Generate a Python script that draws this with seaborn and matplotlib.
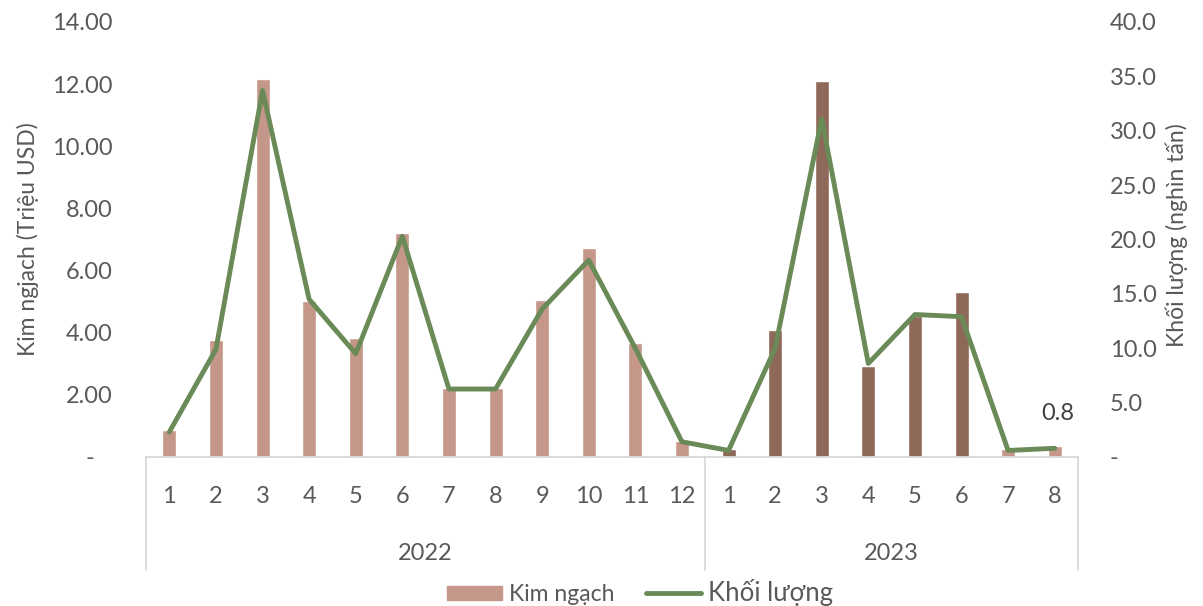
import matplotlib
matplotlib.use("Agg")
import matplotlib.pyplot as plt
import matplotlib.transforms as mtransforms
from matplotlib.patches import Patch
from matplotlib.lines import Line2D
from matplotlib.ticker import FuncFormatter
import seaborn as sns
import pandas as pd

# Data
months = [1, 2, 3, 4, 5, 6, 7, 8, 9, 10, 11, 12, 1, 2, 3, 4, 5, 6, 7, 8]
years = ["2022"] * 12 + ["2023"] * 8
kim_ngach = [0.88, 3.75, 12.15, 5.03, 3.82, 7.21, 2.23, 2.23, 5.04, 6.74, 3.67, 0.52,
             0.26, 4.10, 12.09, 2.94, 4.55, 5.32, 0.26, 0.34]
khoi_luong = [2.3, 9.9, 33.7, 14.5, 9.5, 20.3, 6.25, 6.25, 13.6, 18.1, 10.0, 1.4,
              0.6, 10.0, 31.1, 8.6, 13.1, 12.9, 0.6, 0.8]

LIGHT = "#C4978A"
DARK = "#8E6858"
GREEN = "#6A8A57"
TEXT = "#595959"
GRID = "#D9D9D9"

bar_colors = [LIGHT] * 12 + [DARK] * 6 + [LIGHT] * 2

sns.set_theme(style="white")
plt.rcParams["font.family"] = ["Lato", "Open Sans", "DejaVu Sans"]

keys = [f"{y}-{m}" for y, m in zip(years, months)]
df = pd.DataFrame({"key": keys, "pos": range(len(keys)), "kim": kim_ngach, "kl": khoi_luong})

fig = plt.figure(figsize=(12.03, 6.06), dpi=100)
ax = fig.add_axes([0.1214, 0.2459, 0.7747, 0.7178])

sns.barplot(data=df, x="key", y="kim", hue="key", palette=dict(zip(keys, bar_colors)),
            width=0.3, saturation=1, legend=False, ax=ax)

ax2 = ax.twinx()
sns.lineplot(data=df, x="pos", y="kl", color=GREEN, linewidth=3.5, ax=ax2,
             solid_capstyle="round", solid_joinstyle="round")

ax.set_xlim(-0.5, len(keys) - 0.5)
ax.set_ylim(0, 14)
ax2.set_ylim(0, 40)
ax.set_yticks(range(0, 15, 2))
ax2.set_yticks(range(0, 41, 5))
ax.yaxis.set_major_formatter(FuncFormatter(lambda v, p: "-   " if v == 0 else f"{v:.2f}"))
ax2.yaxis.set_major_formatter(FuncFormatter(lambda v, p: "-" if v == 0 else f"{v:.1f}"))

for a in (ax, ax2):
    for s in a.spines.values():
        s.set_visible(False)
    a.grid(False)
ax.spines["bottom"].set_visible(True)
ax.spines["bottom"].set_color(GRID)
ax.spines["bottom"].set_linewidth(1.3)

ax.tick_params(axis="y", length=0, pad=24, labelsize=17, labelcolor=TEXT)
ax2.tick_params(axis="y", length=0, pad=23, labelsize=17, labelcolor=TEXT)
ax.set_xticks(range(len(keys)))
ax.set_xticklabels([str(m) for m in months])
ax.tick_params(axis="x", length=0, pad=21, labelsize=17, labelcolor=TEXT)
ax.set_xlabel("")

ax.set_ylabel("Kim ngjach (Triệu USD)", fontsize=16.5, color=TEXT)
ax.yaxis.set_label_coords(-0.115, 0.5)
ax2.set_ylabel("Khối lượng (nghìn tấn)", fontsize=16.5, color=TEXT)
ax2.yaxis.set_label_coords(1.094, 0.51)

# multi-level category axis: separators and year labels
trans = mtransforms.blended_transform_factory(ax.transData, ax.transAxes)
year_names = list(dict.fromkeys(years))
start = 0
bounds = [-0.5]
for yname in year_names:
    n = years.count(yname)
    ax.text(start + (n - 1) / 2, -0.222, yname, transform=trans, ha="center", va="center",
            fontsize=17, color=TEXT)
    start += n
    bounds.append(start - 0.5)
for b in bounds:
    ax.plot([b, b], [0, -0.26], transform=trans, color=GRID, lw=1.3, clip_on=False)

# data label on the last point
ax2.annotate(f"{khoi_luong[-1]:.1f}", xy=(len(keys) - 1, khoi_luong[-1]), xytext=(2, 25),
             textcoords="offset points", ha="center", va="center", fontsize=17, color="#404040")

handles = [Patch(color=LIGHT), Line2D([0], [0], color=GREEN, lw=3.5)]
leg = fig.legend(handles, ["Kim ngạch", "Khối lượng"], loc="center", bbox_to_anchor=(0.532, 0.022),
                 ncol=2, frameon=False, fontsize=16.5, handlelength=2.4, handleheight=0.6,
                 columnspacing=1.4, handletextpad=0.3, labelcolor=TEXT)
leg.get_texts()[1].set_fontsize(18.5)

fig.savefig("out.png", dpi=100)
plt.close(fig)
